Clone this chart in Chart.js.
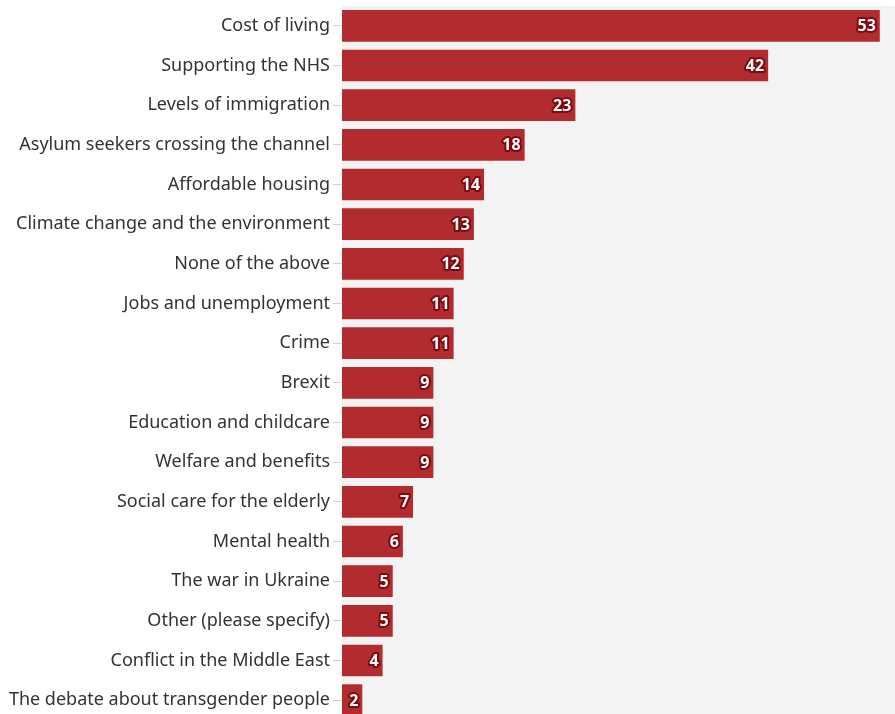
<!DOCTYPE html>
<html>
<head>
<meta charset="utf-8">
<script src="https://cdn.jsdelivr.net/npm/chart.js@4.4.1/dist/chart.umd.min.js"></script>
<style>
  html, body { margin: 0; padding: 0; background: #fff; overflow: hidden; height: 714px; }
  /* the original panel runs a few pixels past the bottom edge */
  #wrap { width: 895px; height: 720px; }
</style>
</head>
<body>
<div id="wrap"><canvas id="issuesChart"></canvas></div>
<script>
const categories = [
  'Cost of living', 'Supporting the NHS', 'Levels of immigration',
  'Asylum seekers crossing the channel', 'Affordable housing',
  'Climate change and the environment', 'None of the above',
  'Jobs and unemployment', 'Crime', 'Brexit', 'Education and childcare',
  'Welfare and benefits', 'Social care for the elderly', 'Mental health',
  'The war in Ukraine', 'Other (please specify)', 'Conflict in the Middle East',
  'The debate about transgender people'
];
const percentages = [53, 42, 23, 18, 14, 13, 12, 11, 11, 9, 9, 9, 7, 6, 5, 5, 4, 2];

// grey panel behind the bars
const plotBackground = {
  id: 'plotBackground',
  beforeDraw(chart) {
    const { ctx, chartArea: a } = chart;
    ctx.save();
    ctx.fillStyle = '#f4f3f3';
    ctx.fillRect(a.left, a.top, a.right - a.left, a.bottom - a.top);
    ctx.restore();
  }
};

// white numbers with a dark outline at the end of each bar
const barLabels = {
  id: 'barLabels',
  afterDatasetsDraw(chart) {
    const { ctx } = chart;
    const meta = chart.getDatasetMeta(0);
    ctx.save();
    ctx.font = 'bold 16px "Noto Sans"';
    ctx.textAlign = 'right';
    ctx.textBaseline = 'middle';
    ctx.lineJoin = 'round';
    meta.data.forEach((bar, i) => {
      const x = bar.x - 4, y = bar.y + 1;
      const txt = String(percentages[i]);
      ctx.lineWidth = 4;
      ctx.strokeStyle = '#7a0a10';
      ctx.strokeText(txt, x, y);
      ctx.fillStyle = '#ffffff';
      ctx.fillText(txt, x, y);
    });
    ctx.restore();
  }
};

new Chart(document.getElementById('issuesChart'), {
  type: 'bar',
  data: {
    labels: categories,
    datasets: [{
      data: percentages,
      backgroundColor: '#b22b2f',
      borderWidth: 0,
      barPercentage: 0.8,
      categoryPercentage: 1.0
    }]
  },
  options: {
    indexAxis: 'y',
    responsive: true,
    maintainAspectRatio: false,
    animation: false,
    layout: { padding: { top: 6, bottom: 0, left: 0, right: 0 } },
    scales: {
      x: {
        display: false,
        min: 0,
        max: 54.5
      },
      y: {
        grid: {
          display: true,
          offset: false,
          drawOnChartArea: false,
          drawTicks: true,
          tickLength: 9,
          tickColor: '#d0d0d0',
          color: '#d0d0d0'
        },
        border: { display: false },
        ticks: {
          color: '#333333',
          font: { family: '"Noto Sans"', size: 18 },
          padding: 3
        },
        afterFit(scale) {
          scale.width = 342;
          scale.paddingTop = 0;
          scale.paddingBottom = 0;
        }
      }
    },
    plugins: {
      legend: { display: false },
      tooltip: { enabled: false }
    }
  },
  plugins: [plotBackground, barLabels]
});
</script>
</body>
</html>
